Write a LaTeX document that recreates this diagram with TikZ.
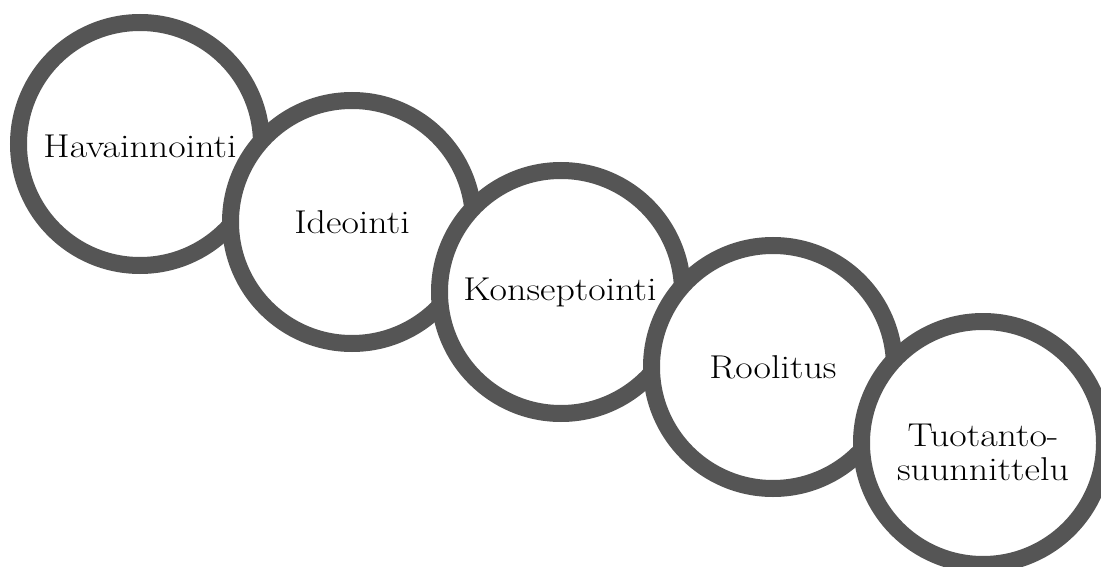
\documentclass[tikz,border=0pt]{standalone}
\usepackage{graphicx}
\usepackage{tikz}
\definecolor{ringgray}{HTML}{555555}
\newcommand{\wide}[1]{\scalebox{1.15}[1]{#1}}
\tikzset{
  ring/.style={circle, draw=ringgray, line width=17pt, fill=white, minimum size=243pt, inner sep=0pt},
  lbl/.style={font=\fontsize{33}{34}\selectfont, align=center, text=black, inner sep=0pt}
}
\begin{document}
\begin{tikzpicture}[x=1pt,y=-1pt]
\useasboundingbox (0,0) rectangle (1101,567);
\node[ring] (c1) at (140,144) {};
\node[ring] (c2) at (352,222) {};
\node[ring] (c3) at (561,292) {};
\node[ring] (c4) at (773,367) {};
\node[ring] (c5) at (983,443) {};
\node[lbl] (t1) at (140,146) {\wide{Havainnointi}};
\node[lbl] (t2) at (352,222) {\wide{Ideointi}};
\node[lbl] (t3) at (560,292) {\wide{Konseptointi}};
\node[lbl] (t4) at (773,367) {\wide{Roolitus}};
\node[lbl] (t5) at (983,452) {\wide{Tuotanto-}\\\wide{suunnittelu}};
\end{tikzpicture}
\end{document}
